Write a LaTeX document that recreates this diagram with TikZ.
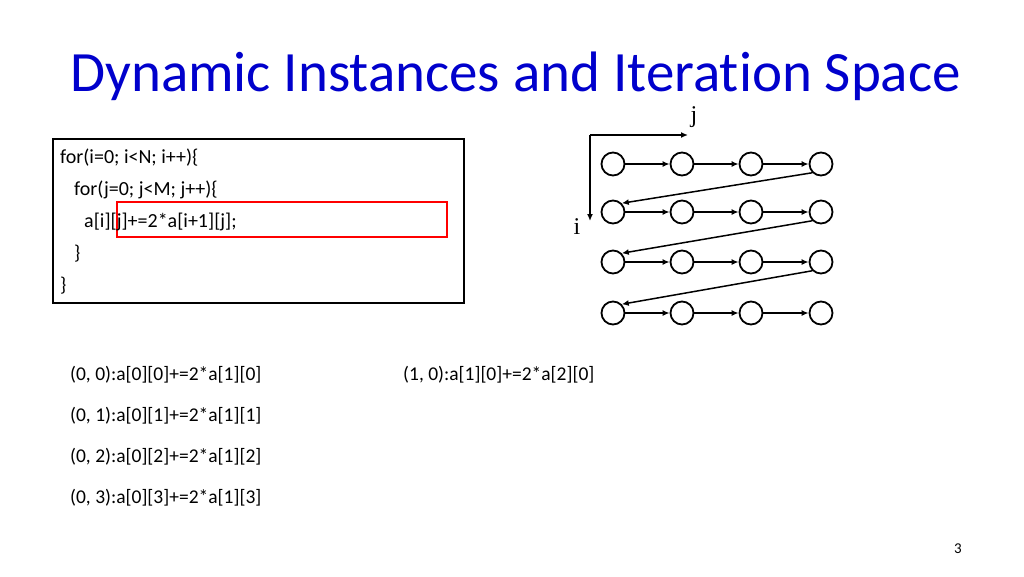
\documentclass[tikz,border=0pt]{standalone}
\usepackage{fontspec}
\setmainfont{Carlito}[Ligatures=NoCommon]
\newfontfamily\serif{Liberation Serif}
\usetikzlibrary{arrows.meta}
\begin{document}
\begin{tikzpicture}[x=1pt,y=-1pt,
  it/.style={circle,draw,line width=1.8pt,minimum size=23pt,inner sep=0pt},
  ar/.style={line width=1.5pt,-{Latex[length=7pt,width=6pt]}},
  inst/.style={anchor=west,font=\fontsize{19.5}{22}\selectfont,inner sep=0pt}]
\useasboundingbox (0,0) rectangle (1024,576);
\node[anchor=west,text=blue!80!black,font=\fontsize{57}{60}\selectfont,inner sep=0pt] (title) at (70,76) {Dynamic Instances and Iteration Space};
\node[draw,line width=2pt,minimum width=411pt,minimum height=164pt,anchor=north west] (code) at (52,138) {};
\node[draw=red,line width=2.4pt,minimum width=330pt,minimum height=35pt,anchor=north west] (hl) at (116,201) {};
\node[anchor=north west,align=left,font=\fontsize{20}{32}\selectfont,inner sep=0pt] (src) at (60,149)
{for(i=0; i<N; i++)\{\\\hspace*{14pt}for(j=0; j<M; j++)\{\\\hspace*{24pt}a[i][j]+=2*a[i+1][j];\\\hspace*{14pt}\}\\\}};
\foreach \r/\y in {0/164,1/212,2/262,3/313}{
  \foreach \c/\x in {0/613,1/682,2/751,3/821}{
    \node[it] (n\r\c) at (\x,\y) {};
  }
  \draw[ar] (n\r0) -- (n\r1);
  \draw[ar] (n\r1) -- (n\r2);
  \draw[ar] (n\r2) -- (n\r3);
}
\foreach \r/\s in {0/1,1/2,2/3}{
  \draw[ar] (n\r3.south west) -- (n\s0.north east);
}
\coordinate (o) at (590,135);
\coordinate (jx) at (688,135);
\coordinate (iy) at (590,221);
\draw[ar] (o) -- (jx);
\draw[ar] (o) -- (iy);
\node[font=\serif\fontsize{24}{26}\selectfont] (jl) at (694,117) {j};
\node[font=\serif\fontsize{24}{26}\selectfont] (il) at (577,227) {i};
\node[inst] (a) at (70,375) {(0, 0):a[0][0]+=2*a[1][0]};
\node[inst] (b) at (70,416) {(0, 1):a[0][1]+=2*a[1][1]};
\node[inst] (c) at (70,457) {(0, 2):a[0][2]+=2*a[1][2]};
\node[inst] (d) at (70,498) {(0, 3):a[0][3]+=2*a[1][3]};
\node[inst] (e) at (403,375) {(1, 0):a[1][0]+=2*a[2][0]};
\node[font=\fontsize{15}{17}\selectfont] (pg) at (958,549) {3};
\end{tikzpicture}
\end{document}
